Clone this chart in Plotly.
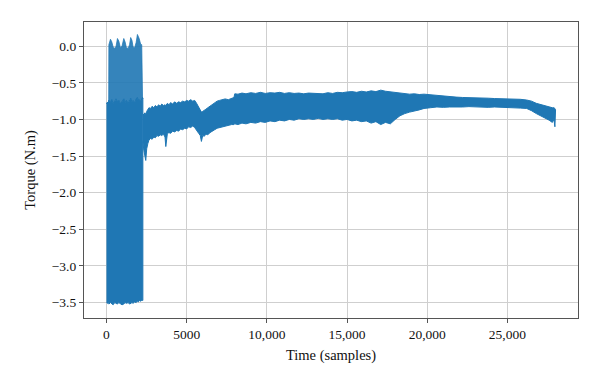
import plotly.graph_objects as go

# ---- Data (envelope of the dense torque signal) ----
# Initial oscillating block (0 .. ~2270 samples)
block_t = [0, 50, 140, 150, 250, 330, 415, 520, 600, 685, 770, 870, 970, 1080, 1160,
           1245, 1350, 1440, 1510, 1590, 1660, 1760, 1850, 1930, 1990, 2040, 2130, 2200,
           2250, 2270]
block_top = [-0.78, -0.77, -0.76, 0.02, 0.095, 0.06, -0.01, -0.03, 0.0, 0.105, 0.07, -0.02,
             0.0, 0.105, 0.06, -0.02, -0.03, 0.02, 0.118, 0.08, -0.01, -0.02, 0.05, 0.16,
             0.13, 0.105, 0.03, 0.02, -0.70, -0.72]
block_mid = [-0.78, -0.77, -0.76, -0.74, -0.77, -0.73, -0.78, -0.75, -0.72, -0.76, -0.74,
             -0.79, -0.75, -0.72, -0.77, -0.74, -0.78, -0.73, -0.71, -0.76, -0.74, -0.78,
             -0.72, -0.70, -0.75, -0.73, -0.76, -0.72, -0.70, -0.72]
block_bot = [-3.50, -3.51, -3.50, -3.52, -3.50, -3.51, -3.53, -3.50, -3.51, -3.52, -3.50,
             -3.51, -3.53, -3.52, -3.50, -3.51, -3.50, -3.52, -3.51, -3.50, -3.51, -3.49,
             -3.50, -3.48, -3.49, -3.47, -3.48, -3.47, -3.47, -3.47]

# Main signal after the block
main_t = [2270, 2330, 2390, 2450, 2510, 2580, 2650, 2750, 2850, 2950, 3050, 3150, 3250,
          3350, 3450, 3550, 3650, 3700, 3800, 3900, 4000, 4120, 4250, 4380, 4500, 4620,
          4750, 4880, 5000, 5120, 5250, 5380, 5500, 5620, 5750, 5850, 5920, 6000, 6100,
          6200, 6320, 6450, 6600, 6750, 6900, 7050, 7200, 7400, 7600, 7800, 7950, 8000,
          8200, 8450, 8700, 9000, 9300, 9600, 9900, 10200, 10500, 10800, 11100, 11400,
          11700, 12000, 12300, 12600, 12900, 13200, 13500, 13800, 14100, 14400, 14700,
          15000, 15300, 15600, 15900, 16200, 16500, 16800, 17100, 17400, 17700, 18000,
          18300, 18600, 18900, 19200, 19500, 19800, 20200, 20600, 21000, 21400, 21800,
          22200, 22600, 23000, 23400, 23800, 24200, 24600, 25000, 25400, 25800, 26200,
          26500, 26800, 27100, 27400, 27600, 27800, 27900, 27960, 28000]
main_up = [-0.92, -0.94, -0.91, -0.93, -0.89, -0.87, -0.84, -0.85, -0.82, -0.84, -0.81,
           -0.83, -0.80, -0.82, -0.79, -0.81, -0.80, -0.81, -0.78, -0.80, -0.77, -0.79,
           -0.76, -0.78, -0.76, -0.77, -0.75, -0.76, -0.74, -0.75, -0.73, -0.75, -0.74,
           -0.78, -0.84, -0.88, -0.90, -0.89, -0.87, -0.86, -0.84, -0.82, -0.80, -0.77,
           -0.75, -0.74, -0.73, -0.72, -0.73, -0.71, -0.70, -0.65, -0.655, -0.64, -0.65,
           -0.635, -0.645, -0.63, -0.645, -0.635, -0.64, -0.63, -0.645, -0.635, -0.645,
           -0.64, -0.65, -0.64, -0.645, -0.64, -0.65, -0.635, -0.645, -0.63, -0.635,
           -0.625, -0.62, -0.63, -0.615, -0.625, -0.61, -0.62, -0.60, -0.615, -0.625,
           -0.635, -0.645, -0.65, -0.655, -0.65, -0.66, -0.655, -0.665, -0.67, -0.68,
           -0.69, -0.695, -0.70, -0.70, -0.705, -0.71, -0.71, -0.715, -0.715, -0.72,
           -0.72, -0.725, -0.735, -0.75, -0.78, -0.80, -0.82, -0.83, -0.84, -0.84,
           -0.85, -0.87]
main_lo = [-1.30, -1.42, -1.50, -1.56, -1.40, -1.33, -1.28, -1.26, -1.27, -1.24, -1.25,
           -1.22, -1.23, -1.21, -1.22, -1.20, -1.24, -1.37, -1.19, -1.18, -1.19, -1.16,
           -1.17, -1.15, -1.16, -1.13, -1.14, -1.12, -1.13, -1.10, -1.11, -1.09, -1.11,
           -1.14, -1.19, -1.22, -1.30, -1.22, -1.23, -1.20, -1.21, -1.18, -1.16, -1.14,
           -1.12, -1.11, -1.10, -1.09, -1.08, -1.07, -1.07, -1.06, -1.07, -1.05, -1.06,
           -1.04, -1.05, -1.03, -1.04, -1.02, -1.03, -1.01, -1.02, -1.00, -1.01, -0.99,
           -1.00, -0.99, -1.00, -0.985, -1.00, -0.99, -1.00, -0.99, -1.01, -1.00, -1.02,
           -1.01, -1.03, -1.02, -1.05, -1.03, -1.07, -1.04, -1.06, -1.00, -0.95, -0.92,
           -0.90, -0.88, -0.87, -0.85, -0.84, -0.83, -0.835, -0.83, -0.825, -0.83,
           -0.825, -0.835, -0.83, -0.835, -0.83, -0.84, -0.835, -0.84, -0.845, -0.85,
           -0.88, -0.92, -0.95, -0.99, -1.01, -1.04, -1.00, -1.10, -1.05]

x_tickvals = [0, 5000, 10000, 15000, 20000, 25000]
x_ticktext = ["0", "5000", "10,000", "15,000", "20,000", "25,000"]
y_tickvals = [0.0, -0.5, -1.0, -1.5, -2.0, -2.5, -3.0, -3.5]

BLUE = "#1f77b4"
FONT = "Liberation Serif"


def band(t, upper, lower):
    return t + t[::-1], upper + lower[::-1]


fig = go.Figure()

bx, by = band(block_t, block_top, block_mid)
fig.add_trace(go.Scatter(x=bx, y=by, mode="lines", fill="toself",
                         fillcolor="rgba(31,119,180,0.9)",
                         line=dict(color="rgba(31,119,180,0.9)", width=0.8),
                         hoverinfo="skip", showlegend=False))

bx, by = band(block_t, block_mid, block_bot)
fig.add_trace(go.Scatter(x=bx, y=by, mode="lines", fill="toself", fillcolor=BLUE,
                         line=dict(color=BLUE, width=1), hoverinfo="skip",
                         showlegend=False))

mx, my = band(main_t, main_up, main_lo)
fig.add_trace(go.Scatter(x=mx, y=my, mode="lines", fill="toself", fillcolor=BLUE,
                         line=dict(color=BLUE, width=1), hoverinfo="skip",
                         showlegend=False))

axis_common = dict(
    showgrid=True, gridcolor="#cfcfcf", gridwidth=1,
    showline=True, mirror=True, linecolor="#555555", linewidth=1.2,
    ticks="outside", ticklen=4, tickcolor="#555555", tickwidth=1,
    zeroline=False, automargin=False,
    tickfont=dict(family=FONT, size=13.5, color="#111"),
)

# The page body adds an 8px offset, so margins are reduced accordingly.
fig.update_layout(
    width=584, height=372,
    margin=dict(l=76, r=14, t=14, b=62, autoexpand=False),
    paper_bgcolor="white", plot_bgcolor="white",
    font=dict(family=FONT, size=13.5, color="#111"),
    xaxis=dict(range=[-1400, 29400], tickvals=x_tickvals, ticktext=x_ticktext,
               title=dict(text="Time (samples)", font=dict(family=FONT, size=14.5),
                          standoff=8),
               **axis_common),
    yaxis=dict(range=[-3.71, 0.33], tickvals=y_tickvals, tickformat=".1f",
               title=dict(text="Torque (N.m)", font=dict(family=FONT, size=14.5),
                          standoff=12),
               **axis_common),
)

fig.write_html("out.html")
